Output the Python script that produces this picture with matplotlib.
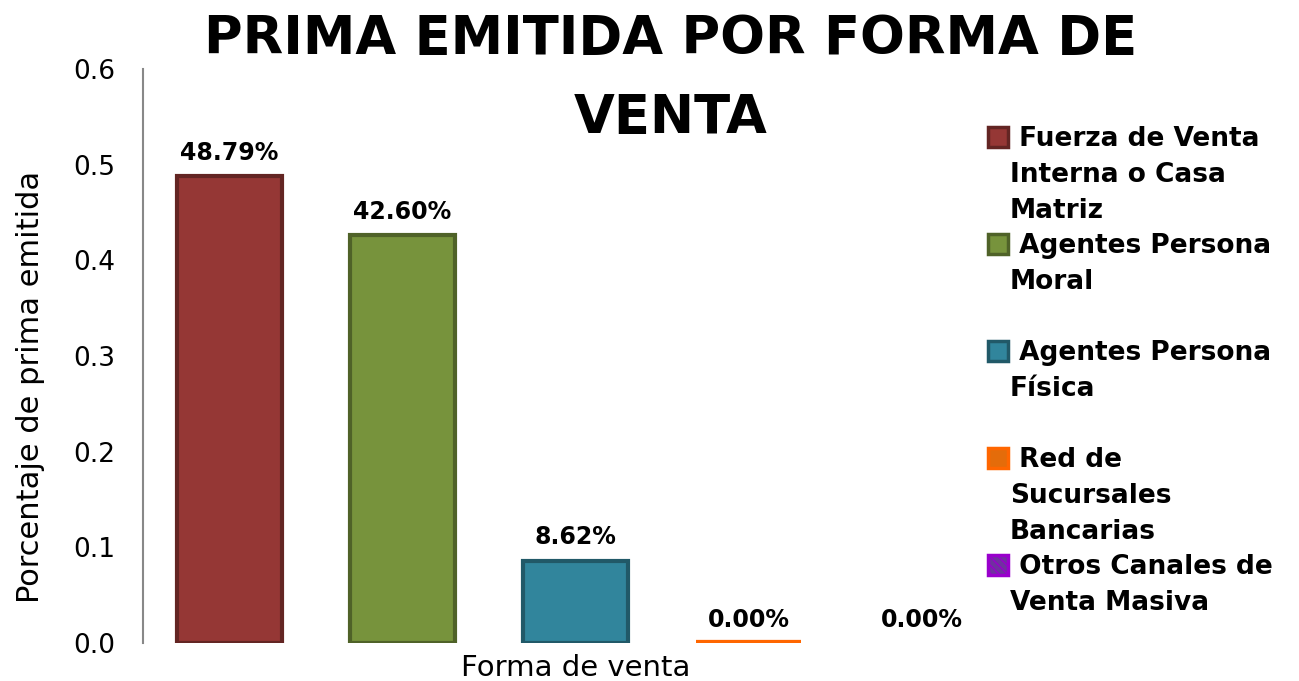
import matplotlib
matplotlib.use('Agg')
import matplotlib.pyplot as plt
from matplotlib.patches import Rectangle

CATEGORIES = ['Fuerza de Venta Interna o Casa Matriz', 'Agentes Persona Moral',
              'Agentes Persona Física', 'Red de Sucursales Bancarias',
              'Otros Canales de Venta Masiva']
LEGEND_LABELS = [' Fuerza de Venta\nInterna o Casa\nMatriz', ' Agentes Persona\nMoral',
                 ' Agentes Persona\nFísica', ' Red de\nSucursales\nBancarias',
                 ' Otros Canales de\nVenta Masiva']
VALUES = [0.4879, 0.4260, 0.0862, 0.0, 0.0]
FILLS = ['#953735', '#77933C', '#31859C', '#E46C0A', '#7030A0']
EDGES = ['#632523', '#4F6228', '#215968', '#FF6600', '#9900CC']

plt.rcParams['font.family'] = 'DejaVu Sans'

fig = plt.figure(figsize=(12.99, 6.81), dpi=100)
ax = fig.add_axes([0.110, 0.0558, 0.666, 0.843])

for i, (v, fc, ec) in enumerate(zip(VALUES, FILLS, EDGES)):
    if i == 4:
        ax.bar(i, v, width=0.61, color=fc, linewidth=0)
    elif v == 0:
        ax.bar(i, v, width=0.61, facecolor=fc, edgecolor=ec, linewidth=4.5)
    else:
        ax.bar(i, v, width=0.61, facecolor=fc, edgecolor=ec, linewidth=3)
    ax.text(i, v + 0.012, '{:.2f}%'.format(v * 100), ha='center', va='bottom',
            fontsize=17, fontweight='bold')

ax.set_xlim(-0.5, 4.5)
ax.set_ylim(0, 0.6)
ax.set_yticks([0, 0.1, 0.2, 0.3, 0.4, 0.5, 0.6])
ax.set_yticklabels(['0.0', '0.1', '0.2', '0.3', '0.4', '0.5', '0.6'], fontsize=19)
ax.set_xticks([])
for s in ['top', 'right', 'bottom']:
    ax.spines[s].set_visible(False)
ax.spines['left'].set_color('#888888')
ax.spines['left'].set_linewidth(1.5)
ax.tick_params(axis='y', length=0, pad=20)
ax.set_ylabel('Porcentaje de prima emitida', fontsize=22)
ax.yaxis.set_label_coords(-0.113, 0.446)
ax.set_xlabel('Forma de venta', fontsize=21, labelpad=8)

fig.text(0.516, 0.981, 'PRIMA EMITIDA POR FORMA DE\nVENTA', ha='center', va='top',
         fontsize=38, fontweight='bold', linespacing=1.65)

W, H = 1299.0, 681.0
for i, (lab, fc, ec) in enumerate(zip(LEGEND_LABELS, FILLS, EDGES)):
    ytop = 127 + 107 * i
    r = Rectangle((988 / W, 1 - (ytop + 20) / H), 20 / W, 20 / H, transform=fig.transFigure,
                  facecolor=fc, edgecolor=ec, linewidth=2.5,
                  hatch='\\\\\\\\' if i == 4 else None)
    fig.add_artist(r)
    fig.text(1010 / W, 1 - (ytop - 1) / H, lab, ha='left', va='top', fontsize=19,
             fontweight='bold', linespacing=1.5)

fig.savefig('out.png', dpi=100)
